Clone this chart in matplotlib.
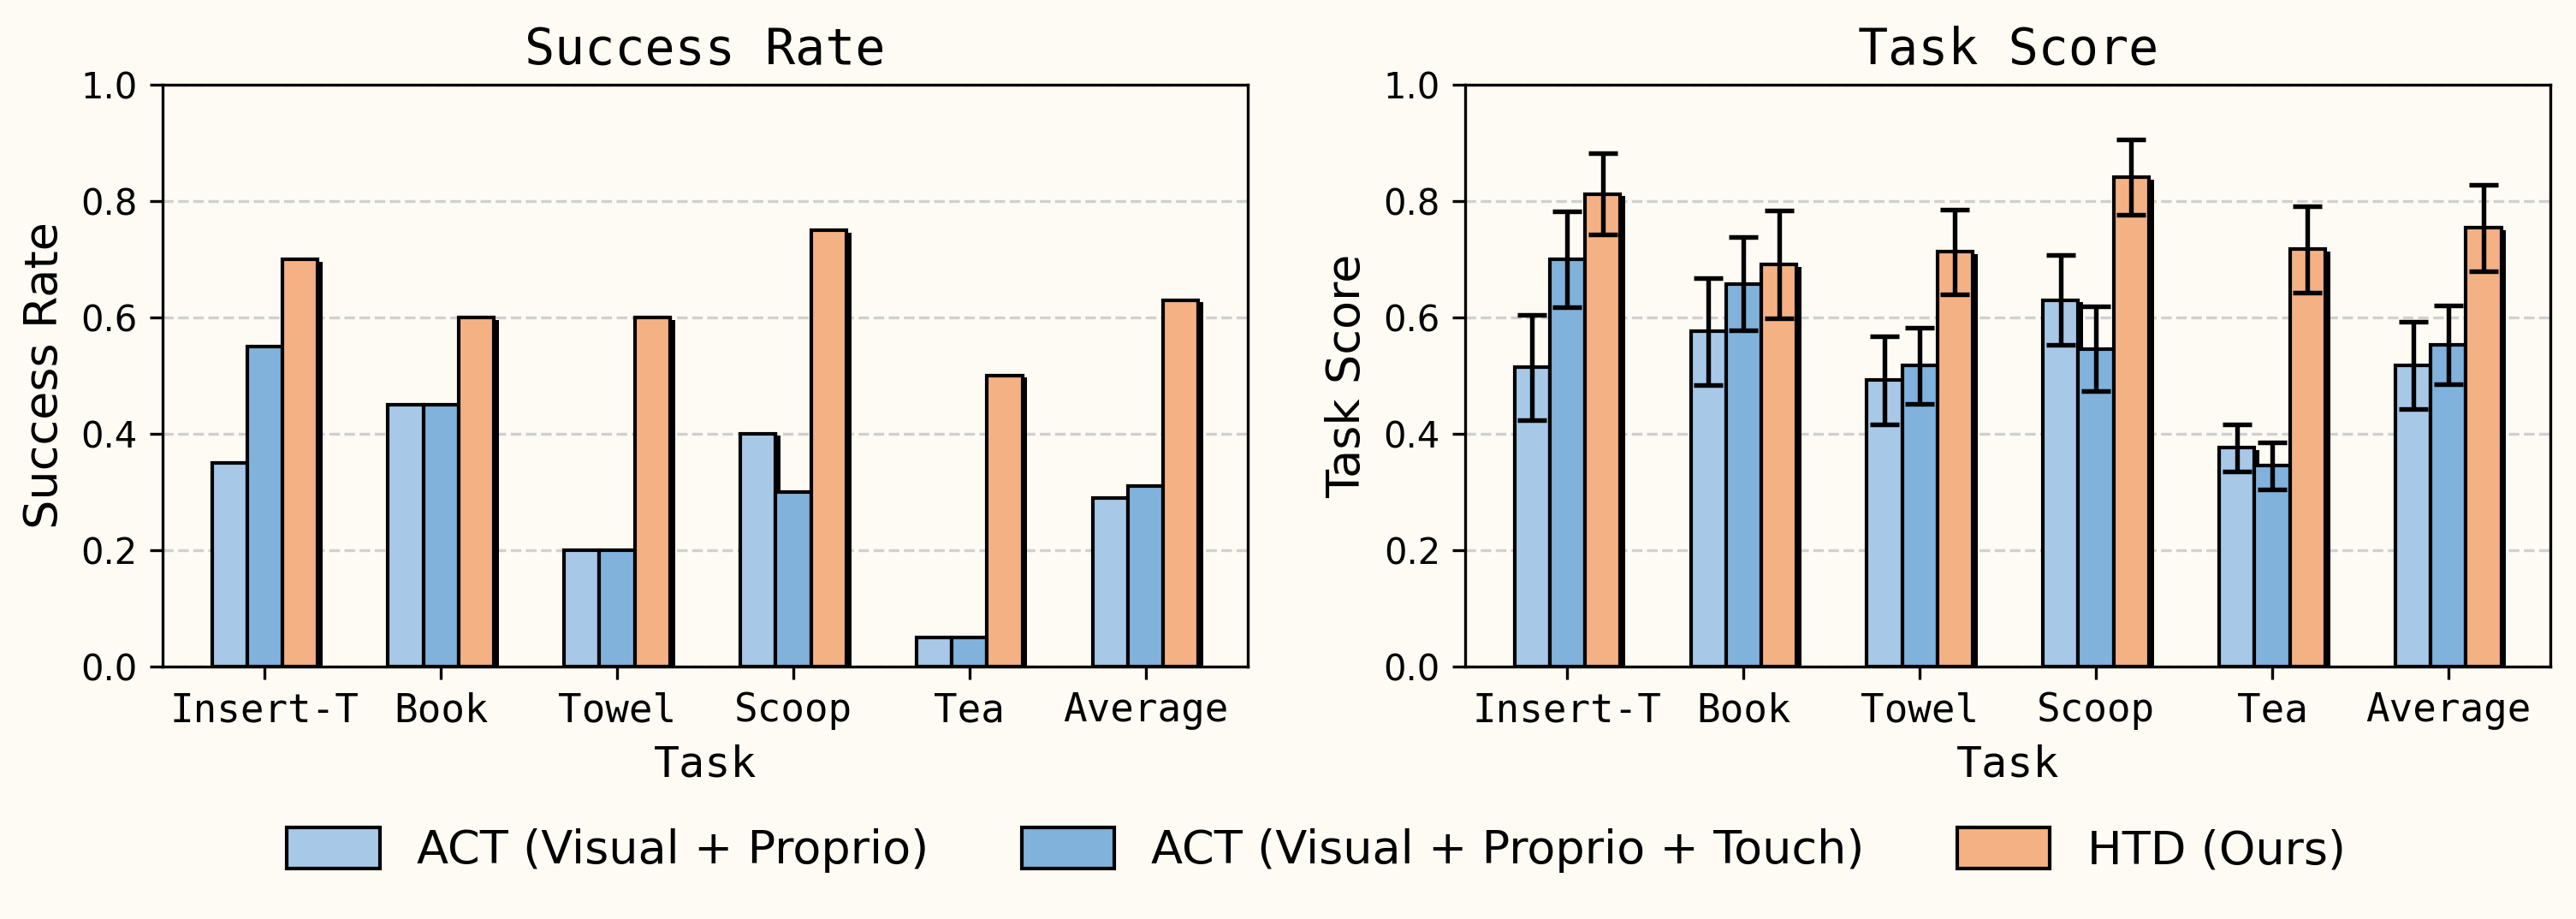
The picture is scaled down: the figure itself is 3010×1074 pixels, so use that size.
import numpy as np
import matplotlib
matplotlib.use("Agg")
import matplotlib.pyplot as plt
import matplotlib.patheffects as pe
from matplotlib.patches import Patch

plt.rcParams['font.family'] = 'DejaVu Sans'

tasks = ["Insert-T", "Book", "Towel", "Scoop", "Tea", "Average"]
methods = ["ACT (Visual + Proprio)", "ACT (Visual + Proprio + Touch)", "HTD (Ours)"]
colors = ["#a8c8e8", "#80b2dc", "#f4b184"]

# success rate per method
sr_act = [0.35, 0.45, 0.20, 0.40, 0.05, 0.29]
sr_act_touch = [0.55, 0.45, 0.20, 0.30, 0.05, 0.31]
sr_htd = [0.70, 0.60, 0.60, 0.75, 0.50, 0.63]

# task score mean and error
ts_act = [0.514, 0.576, 0.492, 0.630, 0.376, 0.517]
ts_act_touch = [0.700, 0.658, 0.517, 0.546, 0.345, 0.553]
ts_htd = [0.812, 0.691, 0.713, 0.841, 0.717, 0.754]
ts_act_err = [0.090, 0.092, 0.076, 0.077, 0.040, 0.075]
ts_act_touch_err = [0.083, 0.080, 0.065, 0.073, 0.040, 0.068]
ts_htd_err = [0.070, 0.093, 0.073, 0.065, 0.074, 0.074]

bg = "#fdfbf4"
mono = 'DejaVu Sans Mono'
fig = plt.figure(figsize=(3010/300, 1074/300), dpi=300, facecolor=bg)
ax1 = fig.add_axes([0.0631, 0.2747, 0.4213, 0.6331])
ax2 = fig.add_axes([0.5688, 0.2747, 0.4213, 0.6331])

x = np.arange(len(tasks))
w = 0.2
shadow = [pe.SimplePatchShadow(offset=(1.4, -0.6), shadow_rgbFace='black', alpha=1.0), pe.Normal()]

def draw(ax, series, errs, title, ylabel):
    ax.set_facecolor(bg)
    for i, vals in enumerate(series):
        kw = {}
        if errs is not None:
            kw = dict(yerr=errs[i], capsize=4, error_kw=dict(elinewidth=1.3, capthick=1.3, ecolor='black'))
        b = ax.bar(x + (i - 1) * w, vals, w, color=colors[i], edgecolor='black',
                   linewidth=1.0, zorder=2, **kw)
        for p in b.patches:
            p.set_path_effects(shadow)
    ax.set_ylim(0, 1.0)
    ax.set_xticks(x)
    ax.set_xticklabels(tasks, fontsize=11, family=mono)
    ax.tick_params(axis='y', labelsize=10)
    ax.set_xlabel("Task", fontsize=12, family=mono)
    ax.set_ylabel(ylabel, fontsize=13)
    ax.set_title(title, fontsize=14, family=mono)
    ax.yaxis.grid(True, linestyle='--', color='#d0d0d0', linewidth=0.8, zorder=0)
    ax.set_axisbelow(True)

draw(ax1, [sr_act, sr_act_touch, sr_htd], None, "Success Rate", "Success Rate")
draw(ax2, [ts_act, ts_act_touch, ts_htd], [ts_act_err, ts_act_touch_err, ts_htd_err], "Task Score", "Task Score")

handles = [Patch(facecolor=c, edgecolor='black', linewidth=1.0) for c in colors]
fig.legend(handles=handles, labels=methods, loc='center', bbox_to_anchor=(0.511, 0.075), ncol=3,
           frameon=False, fontsize=13, columnspacing=2.0, handleheight=1.0)

fig.savefig("out.png", dpi=300, facecolor=bg)
